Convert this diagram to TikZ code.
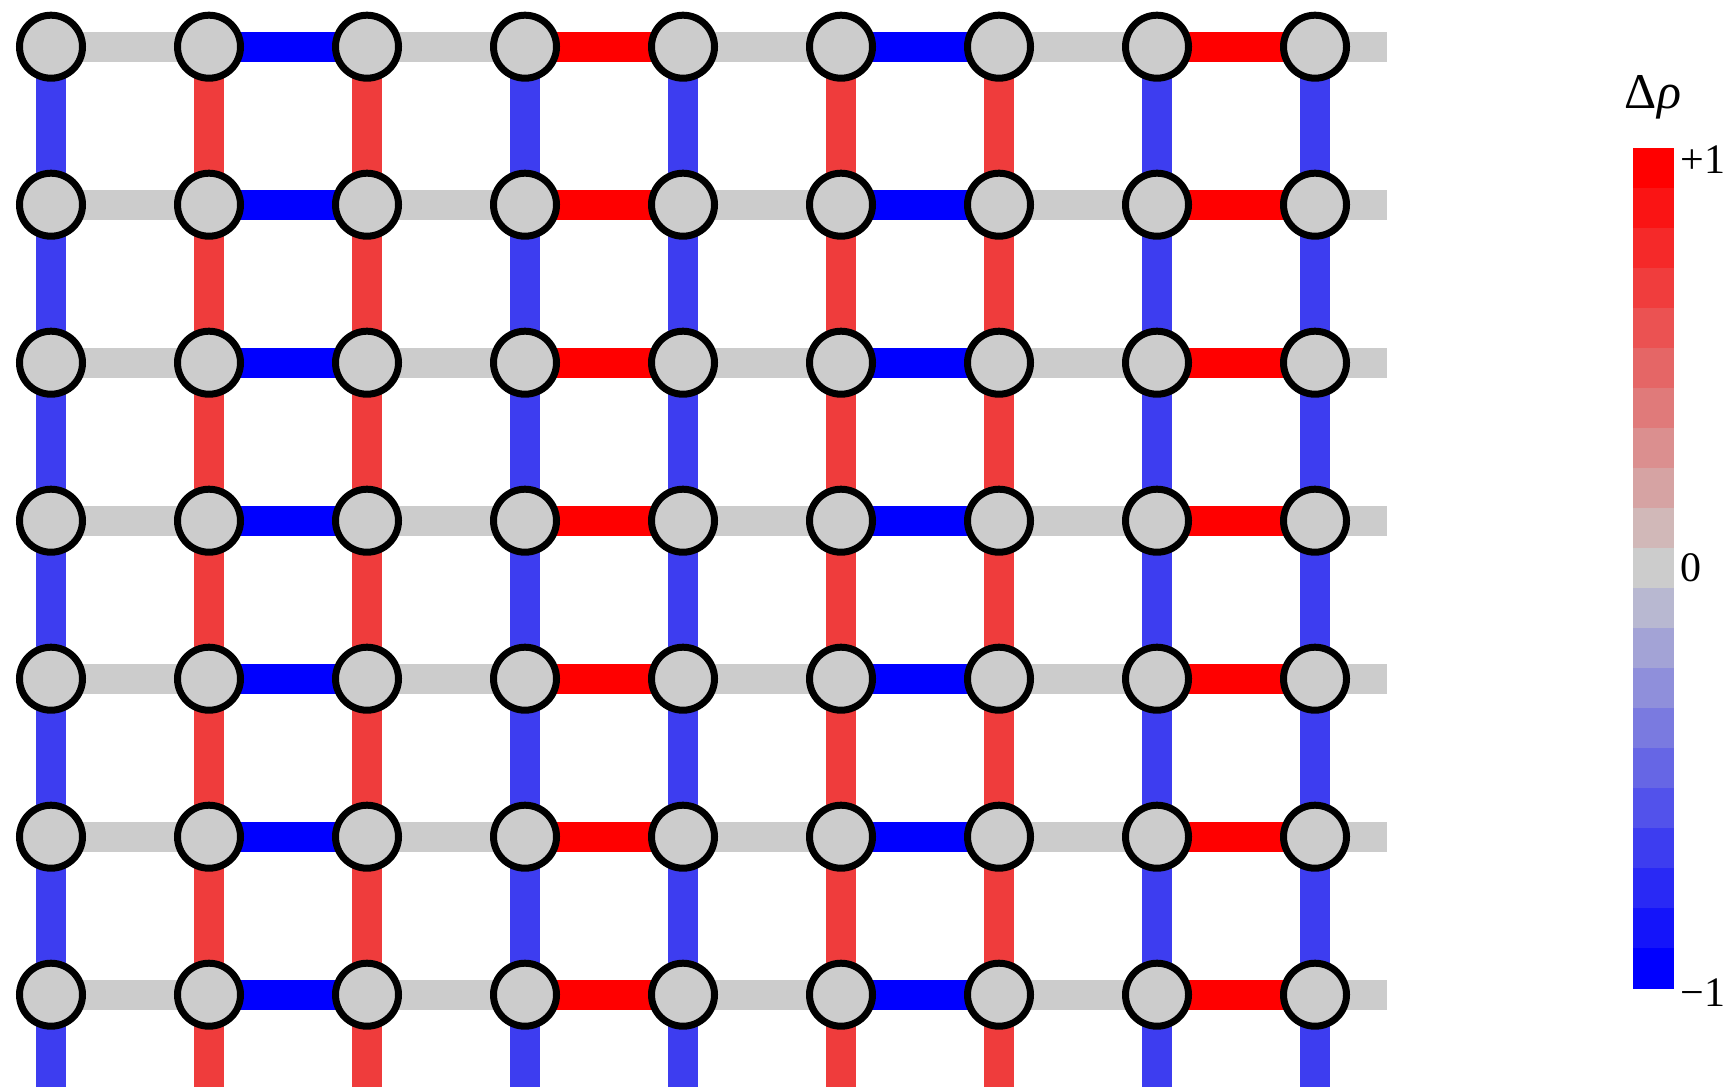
\documentclass[tikz,border=0pt]{standalone}
\usepackage{fontspec}
\setmainfont{Liberation Serif}
\pgfdeclarelayer{background}
\pgfsetlayers{background,main}
\definecolor{gbar}{HTML}{CCCCCC}
\definecolor{hblue}{HTML}{0000FF}
\definecolor{hred}{HTML}{FF0000}
\definecolor{vblue}{HTML}{3D3DF0}
\definecolor{vred}{HTML}{EF3C3C}
\tikzset{
  site/.style={circle,draw=black,line width=3.5pt,fill=gbar,minimum size=31.5pt,inner sep=0pt},
  bar/.style={line width=15pt,line cap=butt},
  lbl/.style={inner sep=0pt,font=\fontsize{21}{24}\selectfont}
}
\begin{document}
\begin{tikzpicture}[x=0.5pt,y=-0.5pt]
\useasboundingbox (0,0) rectangle (1733,1087);
% sites
\foreach \r in {0,...,6}{
  \foreach \c in {0,...,8}{
    \node[site] (n-\r-\c) at ({51+158*\c},{46.7+158*\r}) {};
  }
  \coordinate (e-\r) at (1386.7,{46.7+158*\r});
}
\foreach \c in {0,...,8}{
  \coordinate (b-\c) at ({51+158*\c},1087);
}
\begin{pgfonlayer}{background}
% horizontal bonds
\foreach \r in {0,...,6}{
  \foreach \c/\d/\col in {0/1/gbar,1/2/hblue,2/3/gbar,3/4/hred,4/5/gbar,5/6/hblue,6/7/gbar,7/8/hred}{
    \draw[bar,draw=\col] (n-\r-\c.center) -- (n-\r-\d.center);
  }
  \draw[bar,draw=gbar] (n-\r-8.center) -- (e-\r);
}
% vertical bonds
\foreach \c/\col in {0/vblue,1/vred,2/vred,3/vblue,4/vblue,5/vred,6/vred,7/vblue,8/vblue}{
  \foreach \r [evaluate=\r as \s using int(\r+1)] in {0,...,5}{
    \draw[bar,draw=\col] (n-\r-\c.center) -- (n-\s-\c.center);
  }
  \draw[bar,draw=\col] (n-6-\c.center) -- (b-\c);
}
\end{pgfonlayer}
% colour bar
\foreach \k in {0,...,20}{
  \pgfmathsetmacro{\t}{(10-\k)*10}
  \pgfmathsetmacro{\ya}{148+40*\k}
  \pgfmathsetmacro{\yb}{148+40*(\k+1)+0.5}
  \ifdim\t pt>0pt
    \fill[red!\t!gbar] (1632.5,\ya) rectangle (1673.5,\yb);
  \else
    \pgfmathsetmacro{\tn}{-\t}
    \fill[blue!\tn!gbar] (1632.5,\ya) rectangle (1673.5,\yb);
  \fi
}
\node[lbl,anchor=base,font=\fontsize{25}{28}\selectfont] (title) at (1653,108) {Δ{\itshape ρ}};
\node[lbl,anchor=west] (top) at (1680,160) {+1};
\node[lbl,anchor=west] (mid) at (1680,568) {0};
\node[lbl,anchor=west] (bot) at (1680,993) {−1};
\end{tikzpicture}
\end{document}
